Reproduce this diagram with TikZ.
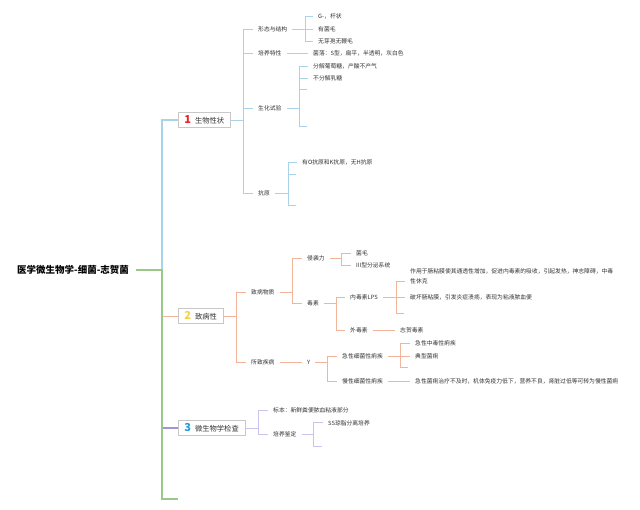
\documentclass[tikz,border=0pt]{standalone}
\usepackage{fontspec}
\setmainfont{Noto Sans CJK SC}
\definecolor{txt}{HTML}{333333}
\definecolor{cb}{HTML}{A9D3EA}
\definecolor{cs}{HTML}{F3B49C}
\definecolor{cl}{HTML}{CBC3EE}
\definecolor{cp}{HTML}{A094DC}
\definecolor{cg}{HTML}{98C98A}
\definecolor{boxc}{HTML}{C8C8C8}
\definecolor{dred}{HTML}{E5252A}
\definecolor{dyel}{HTML}{F4D23C}
\definecolor{dblu}{HTML}{1E9FE0}
\newcommand\sz{\fontsize{5.8}{10}\selectfont}
\newcommand\bsz{\fontsize{7.3}{9}\selectfont}
\newcommand\dig[2]{\textcolor{#1}{\fontsize{11}{11}\selectfont\bfseries #2}\hspace{4pt}}
\newcommand\fan[6]{%
  \coordinate (vv) at (#3,0);
  \draw[#1] (#2.east) -- (#2.east -| vv);
  \draw[#1] (vv |- #4) -- (vv |- #5);
  \foreach \c in {#6}{\draw[#1] (vv |- \c) -- (\c.west);}
}
\begin{document}
\begin{tikzpicture}[x=1pt,y=-1pt,
  t/.style={anchor=west, inner xsep=5pt, inner ysep=0.5pt, font=\sz, text=txt, text height=0.8em, text depth=0.2em},
  e/.style={anchor=west, inner sep=0pt, minimum size=0pt},
  bx/.style={anchor=west, draw=boxc, fill=white, line width=0.6pt, minimum height=15pt, inner xsep=6pt, inner ysep=0pt, font=\bsz, text=txt},
  lb/.style={draw=cb, line width=0.7pt},
  ls/.style={draw=cs, line width=0.7pt},
  ll/.style={draw=cl, line width=0.7pt}]
\path[use as bounding box, fill=white] (0,0) rectangle (640,510);

% root and main boxes
\node[anchor=west, inner sep=0pt, font=\fontsize{9.5}{11}\selectfont\bfseries, text=black] (root) at (17,270) {医学微生物学-细菌-志贺菌};
\node[bx] (n1) at (178,120) {\dig{dred}{1}生物性状};
\node[bx] (n2) at (178,316) {\dig{dyel}{2}致病性};
\node[bx] (n3) at (178,428) {\dig{dblu}{3}微生物学检查};
\coordinate (sp) at (162,270);
\coordinate (endc) at (178,499);

% branch 1 nodes
\node[t] (a1) at (253,29) {形态与结构};
\node[t] (a2) at (253,53) {培养特性};
\node[t] (a3) at (253,108) {生化试验};
\node[t] (a4) at (253,193) {抗原};
\node[t] (a11) at (313,16) {G-，杆状};
\node[t] (a12) at (313,29) {有菌毛};
\node[t] (a13) at (313,41) {无芽孢无鞭毛};
\node[t] (a21) at (308,53) {菌落：S型，扁平，半透明，灰白色};
\node[t] (a31) at (308,66) {分解葡萄糖，产酸不产气};
\node[t] (a32) at (308,78) {不分解乳糖};
\node[e] (a33) at (307,89) {};
\node[e] (a34) at (307,126) {};
\node[t] (a41) at (297,162) {有O抗原和K抗原，无H抗原};
\node[e] (a42) at (296,174) {};
\node[e] (a43) at (296,205) {};

% branch 2 nodes
\node[t] (b1) at (246,292) {致病物质};
\node[t] (b2) at (246,362) {所致疾病};
\node[t] (b11) at (302,258) {侵袭力};
\node[t] (b12) at (302,303) {毒素};
\node[t] (b111) at (351,253) {菌毛};
\node[t] (b112) at (351,265) {III型分泌系统};
\node[t] (b121) at (345,297) {内毒素LPS};
\node[t] (b122) at (345,330) {外毒素};
\node[t, align=left] (b1211) at (405,281) {作用于肠粘膜使其通透性增加，促进内毒素的吸收，引起发热，神志障碍，中毒\\性休克};
\node[t] (b1212) at (405,297) {破坏肠粘膜，引发炎症溃疡，表现为粘液脓血便};
\node[e] (b1213) at (404,313) {};
\node[t] (b1221) at (395,330) {志贺毒素};
\node[t] (b21) at (302,362) {Y};
\node[t] (b211) at (337,356) {急性细菌性痢疾};
\node[t] (b212) at (337,381) {慢性细菌性痢疾};
\node[t] (b2111) at (410,343) {急性中毒性痢疾};
\node[t] (b2112) at (410,356) {典型菌痢};
\node[e] (b2113) at (408,367) {};
\node[t] (b2121) at (410,381) {急性菌痢治疗不及时，机体免疫力低下，营养不良，肾脏过低等可转为慢性菌痢};

% branch 3 nodes
\node[t] (c1) at (268,410) {标本：新鲜粪便脓血粘液部分};
\node[t] (c2) at (268,434) {培养鉴定};
\node[t] (c21) at (323,422) {SS琼脂分离培养};
\node[e] (c22) at (322,446) {};

% main connectors
\draw[draw=cs, line width=0.9pt] (sp |- n2) -- (n2.west);
\draw[draw=cp, line width=2.2pt] (sp |- n3) -- (n3.west);
\draw[draw=cb, line width=1.4pt] (sp) -- (sp |- n1) -- (n1.west);
\draw[draw=cg, line width=1.8pt] ([xshift=7pt]root.east) -- (sp) -- (sp |- endc) -- (endc);

% branch 1 connectors
\fan{lb}{n1}{243}{a1}{a4}{a1,a2,a3,a4}
\fan{lb}{a1}{305}{a11}{a13}{a11,a12,a13}
\draw[lb] (a2.east) -- (a21.west);
\fan{lb}{a3}{299}{a31}{a34}{a31,a32,a33,a34}
\fan{lb}{a4}{288}{a41}{a43}{a41,a42,a43}

% branch 2 connectors
\fan{ls}{n2}{236}{b1}{b2}{b1,b2}
\fan{ls}{b1}{292}{b11}{b12}{b11,b12}
\fan{ls}{b11}{341}{b111}{b112}{b111,b112}
\fan{ls}{b12}{336}{b121}{b122}{b121,b122}
\fan{ls}{b121}{396}{b1211}{b1213}{b1211,b1212,b1213}
\draw[ls] (b122.east) -- (b1221.west);
\draw[ls] (b2.east) -- (b21.west);
\fan{ls}{b21}{327}{b211}{b212}{b211,b212}
\fan{ls}{b211}{400}{b2111}{b2113}{b2111,b2112,b2113}
\draw[ls] (b212.east) -- (b2121.west);

% branch 3 connectors
\fan{ll}{n3}{258}{c1}{c2}{c1,c2}
\fan{ll}{c2}{313}{c21}{c22}{c21,c22}
\end{tikzpicture}
\end{document}
